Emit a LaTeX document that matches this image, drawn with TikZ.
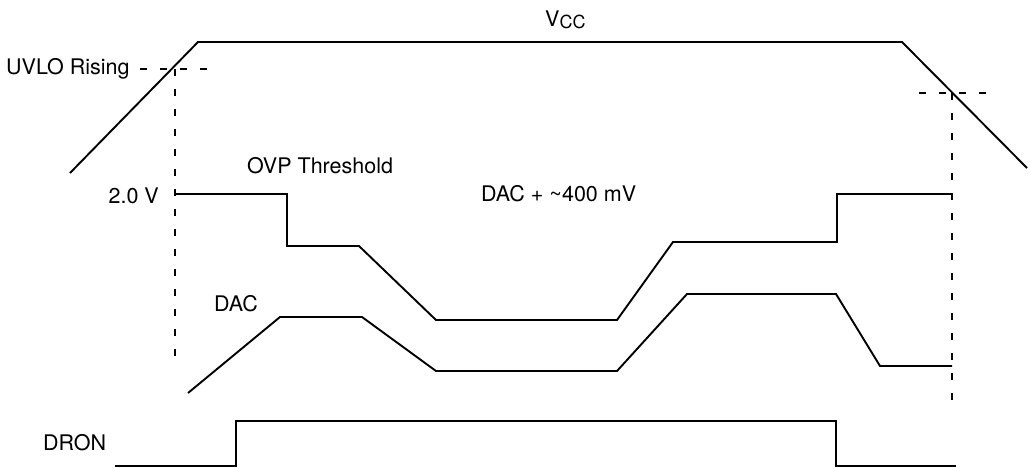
\documentclass[tikz,border=0pt]{standalone}
\usepackage{fontspec}
\setmainfont{TeX Gyre Heros}

\begin{document}
\begin{tikzpicture}[x=1pt,y=-1pt,
    wave/.style={line width=1.9pt},
    guide/.style={line width=2pt,dash pattern=on 7pt off 13pt},
    lbl/.style={inner sep=0pt,font=\fontsize{21.5}{25}\selectfont}]
  \useasboundingbox (0,0) rectangle (1030,467);
  % crossing points of the UVLO levels
  \coordinate (on) at (175,69);
  \coordinate (off) at (952,93);
  % V_CC
  \draw[wave] (70,173) -- (198,42) -- (902,42) -- (1027,168);
  \node[lbl,anchor=base west] (vcc) at (545,26) {V\raisebox{-2pt}{\fontsize{18}{18}\selectfont CC}};
  \node[lbl,anchor=base west] (uvlo) at (6,74) {UVLO Rising};
  \draw[guide] (140,69) -- (207,69);
  \draw[guide] (on) -- (175,358);
  \draw[guide] (919,93) -- (987,93);
  \draw[guide] (off) -- (952,403);
  % OVP threshold
  \draw[wave] (on |- 0,194) -- (287,194) -- (287,246) -- (359,246) -- (436,320)
    -- (617,320) -- (673,242) -- (837,242) -- (837,194) -- (off |- 0,194);
  \node[lbl,anchor=base east] (two) at (159,203) {2.0 V};
  \node[lbl,anchor=base west] (ovp) at (247,173) {OVP Threshold};
  \node[lbl,anchor=base west] (dacp) at (481,201) {DAC + \textasciitilde 400 mV};
  % DAC
  \draw[wave] (188,393) -- (280,317) -- (362,317) -- (436,371) -- (617,371)
    -- (687,294) -- (836,294) -- (880,366) -- (off |- 0,366);
  \node[lbl,anchor=base west] (dac) at (214,311) {DAC};
  % DRON
  \draw[wave] (115,466) -- (236,466) -- (236,421) -- (836,421) -- (836,466) -- (956,466);
  \node[lbl,anchor=base west] (dron) at (43,450) {DRON};
\end{tikzpicture}
\end{document}
